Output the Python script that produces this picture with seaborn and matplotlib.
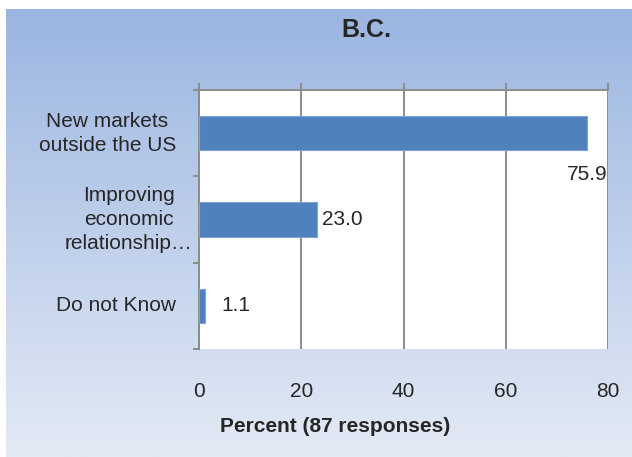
import numpy as np
import pandas as pd
import matplotlib
matplotlib.use("Agg")
import matplotlib.pyplot as plt
import matplotlib.transforms as mtransforms
from matplotlib.colors import LinearSegmentedColormap
import seaborn as sns

## DATA ##

categories = ["New markets\noutside the US", "Improving\neconomic\nrelationship\u2026", "Do not Know"]
percent = [75.9, 23.0, 1.1]
value_labels = ["75.9", "23.0", "1.1"]
x_ticks = [0, 20, 40, 60, 80]
title = "B.C."
x_title = "Percent (87 responses)"

## LAYOUT ##

# right edge of each category label (axes fraction) and data label offsets (points)
cat_label_x = [-0.056, -0.015, -0.056]
val_offsets = [(0, -30, "center"), (3.6, 0, "left"), (12, 0, "left")]

bar_col = "#4F81BD"
grid_col = "#8C8C8C"

##########

sns.set_style("white")
plt.rcParams['font.family'] = ['Liberation Sans', 'DejaVu Sans']
plt.rcParams['font.size'] = 15

df = pd.DataFrame({"cat": categories, "pct": percent})

fig = plt.figure(figsize=(6.32, 4.57), dpi=100)
fig.patch.set_facecolor("white")

# gradient background of the chart area
bg = fig.add_axes([6 / 632, 0, 626 / 632, 448 / 457], zorder=-5)
grad = np.linspace(0, 1, 256).reshape(-1, 1)
cmap = LinearSegmentedColormap.from_list("bg", ["#9BB5E1", "#E3EAF5"])
bg.imshow(grad, aspect="auto", cmap=cmap, extent=[0, 1, 1, 0])
bg.set_axis_off()

ax = fig.add_axes([199 / 632, (457 - 349) / 457, 409 / 632, 259 / 457])
ax.set_facecolor("white")

sns.barplot(data=df, x="pct", y="cat", orient="h", color=bar_col, saturation=1,
            width=0.4, edgecolor="#7FA3D6", linewidth=0.8, ax=ax, zorder=3)

ax.set_xlim(0, 80)
ax.set_ylim(2.5, -0.5)
ax.set_xticks(x_ticks)
ax.set_xticklabels([str(t) for t in x_ticks])
ax.grid(axis="x", color=grid_col, linewidth=1.4, zorder=0)
ax.set_axisbelow(True)

ax.tick_params(axis="x", top=True, bottom=False, labeltop=False, labelbottom=True,
               direction="out", length=5, width=1.4, color=grid_col, pad=19, labelsize=15)
ax.set_yticks(range(len(categories)))
ax.set_yticklabels([])
ax.set_yticks([-0.5, 0.5, 1.5, 2.5], minor=True)
ax.tick_params(axis="y", which="major", length=0)
ax.tick_params(axis="y", which="minor", left=True, direction="out", length=4.5, width=1.4, color=grid_col)

for side in ["right", "bottom"]:
    ax.spines[side].set_visible(False)
for side in ["top", "left"]:
    ax.spines[side].set_color(grid_col)
    ax.spines[side].set_linewidth(1.4)

# category labels
trans = mtransforms.blended_transform_factory(ax.transAxes, ax.transData)
for i, lab in enumerate(categories):
    ax.text(cat_label_x[i], i, lab, transform=trans, ha="right", va="center",
            multialignment="center", fontsize=15, linespacing=1.35, clip_on=False)

# value labels
for i, (v, lab) in enumerate(zip(percent, value_labels)):
    dx, dy, ha = val_offsets[i]
    ax.annotate(lab, xy=(v, i), xytext=(dx, dy), textcoords="offset points",
                ha=ha, va="center", fontsize=15, zorder=5)

ax.set_ylabel("")
ax.set_xlabel(x_title, fontsize=15, fontweight="bold")
ax.xaxis.label.set_va("center")
ax.xaxis.set_label_coords((335 - 199) / 409, (349 - 426) / 259)

fig.text(366 / 632, 1 - 30 / 457, title, ha="center", va="center", fontsize=18, fontweight="bold")

fig.savefig("out.png", dpi=100)
